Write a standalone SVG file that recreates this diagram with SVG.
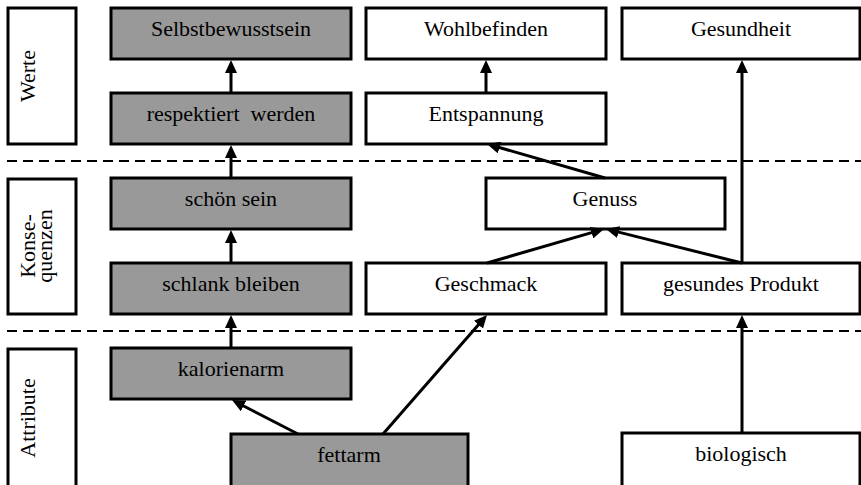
<svg xmlns="http://www.w3.org/2000/svg" width="861" height="485" viewBox="0 0 861 485" font-family="Liberation Serif, Times New Roman, serif" font-size="22">
<defs>
<style>
.box{fill:#ffffff;stroke:#000;stroke-width:3}
.g .box{fill:#999999}
.lbl{fill:#000;text-anchor:middle}
.dash{stroke:#000;stroke-width:2;stroke-dasharray:10 6;fill:none}
.arr{stroke:#000;stroke-width:3;fill:none;marker-end:url(#ah)}
</style>
<marker id="ah" markerUnits="userSpaceOnUse" viewBox="0 -6 13 12" refX="1" refY="0" markerWidth="13" markerHeight="12" orient="auto">
<path d="M0,-6 L13,0 L0,6 z" fill="#000"/>
</marker>
</defs>
<rect width="861" height="485" fill="#fff"/>
<g id="dividers">
<line class="dash" x1="7" y1="161" x2="861" y2="161"/>
<line class="dash" x1="7" y1="331" x2="861" y2="331"/>
</g>
<g id="level-werte"><rect class="box" x="8" y="8" width="68" height="136"/><text class="lbl" font-family="Liberation Serif" font-size="22" transform="translate(35,76) rotate(-90)">Werte</text></g>
<g id="level-konsequenzen"><rect class="box" x="8" y="179" width="68" height="135"/><text class="lbl" font-family="Liberation Serif" font-size="22" transform="translate(35,246) rotate(-90)">Konse-</text><text class="lbl" font-family="Liberation Serif" font-size="22" transform="translate(52,246) rotate(-90)">quenzen</text></g>
<g id="level-attribute"><rect class="box" x="8" y="349" width="68" height="138"/><text class="lbl" font-family="Liberation Serif" font-size="22" transform="translate(35,418) rotate(-90)">Attribute</text></g>

<g id="selbstbewusstsein" class="g"><rect class="box" x="111" y="8" width="240" height="51"/><text class="lbl" font-family="Liberation Serif" font-size="22" x="231" y="36">Selbstbewusstsein</text></g>
<g id="respektiert" class="g"><rect class="box" x="111" y="93" width="240" height="51"/><text class="lbl" font-family="Liberation Serif" font-size="22" x="231" y="121" xml:space="preserve">respektiert  werden</text></g>
<g id="schoen" class="g"><rect class="box" x="111" y="178" width="240" height="51"/><text class="lbl" font-family="Liberation Serif" font-size="22" x="231" y="206">schön sein</text></g>
<g id="schlank" class="g"><rect class="box" x="111" y="263" width="240" height="51"/><text class="lbl" font-family="Liberation Serif" font-size="22" x="231" y="291">schlank bleiben</text></g>
<g id="kalorienarm" class="g"><rect class="box" x="111" y="348" width="240" height="51"/><text class="lbl" font-family="Liberation Serif" font-size="22" x="231" y="376">kalorienarm</text></g>
<g id="fettarm" class="g"><rect class="box" x="231" y="434" width="237" height="54"/><text class="lbl" font-family="Liberation Serif" font-size="22" x="349" y="462">fettarm</text></g>

<g id="wohlbefinden"><rect class="box" x="366" y="8" width="240" height="51"/><text class="lbl" font-family="Liberation Serif" font-size="22" x="486" y="36">Wohlbefinden</text></g>
<g id="entspannung"><rect class="box" x="366" y="93" width="240" height="51"/><text class="lbl" font-family="Liberation Serif" font-size="22" x="486" y="121">Entspannung</text></g>
<g id="genuss"><rect class="box" x="486" y="178" width="239" height="51"/><text class="lbl" font-family="Liberation Serif" font-size="22" x="605" y="206">Genuss</text></g>
<g id="geschmack"><rect class="box" x="366" y="263" width="240" height="51"/><text class="lbl" font-family="Liberation Serif" font-size="22" x="486" y="291">Geschmack</text></g>

<g id="gesundheit"><rect class="box" x="622" y="8" width="238" height="51"/><text class="lbl" font-family="Liberation Serif" font-size="22" x="741" y="36">Gesundheit</text></g>
<g id="gesundes-produkt"><rect class="box" x="622" y="263" width="238" height="51"/><text class="lbl" font-family="Liberation Serif" font-size="22" x="741" y="291">gesundes Produkt</text></g>
<g id="biologisch"><rect class="box" x="622" y="433" width="238" height="55"/><text class="lbl" font-family="Liberation Serif" font-size="22" x="741" y="461">biologisch</text></g>

<g id="connectors">
<line class="arr" x1="231" y1="93" x2="231" y2="72"/>
<line class="arr" x1="231" y1="178" x2="231" y2="157"/>
<line class="arr" x1="231" y1="263" x2="231" y2="242"/>
<line class="arr" x1="231" y1="348" x2="231" y2="327"/>
<line class="arr" x1="298" y1="434" x2="242.7" y2="405.5"/>
<line class="arr" x1="383" y1="434" x2="479.1" y2="324"/>
<line class="arr" x1="486" y1="93" x2="486" y2="72"/>
<line class="arr" x1="605" y1="178" x2="498.5" y2="147.3"/>
<line class="arr" x1="487" y1="263" x2="592.5" y2="232.4"/>
<line class="arr" x1="742" y1="263" x2="617.6" y2="231.9"/>
<line class="arr" x1="742" y1="263" x2="742" y2="72"/>
<line class="arr" x1="742" y1="433" x2="742" y2="327"/>
</g>
</svg>
